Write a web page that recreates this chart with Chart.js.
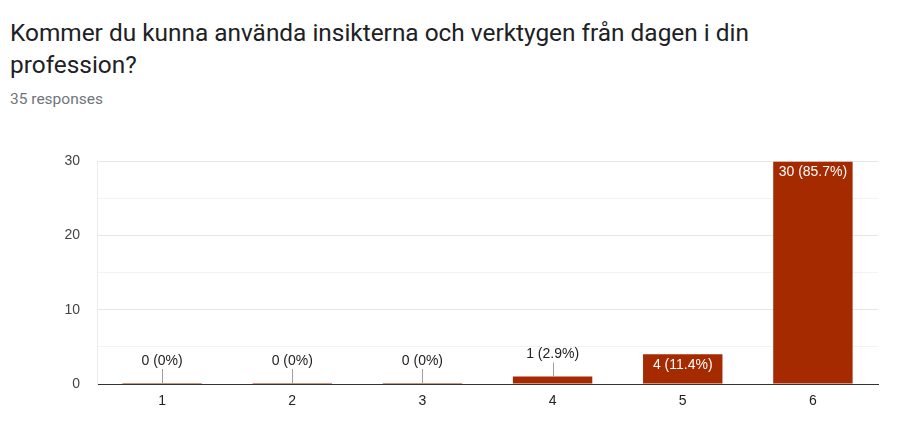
<!DOCTYPE html>
<html>
<head>
<meta charset="utf-8">
<script src="https://cdn.jsdelivr.net/npm/chart.js@4/dist/chart.umd.min.js"></script>
<style>
  body { margin: 0; background: #fff; font-family: Roboto, "Noto Sans", sans-serif; }
  #title { position: absolute; left: 10px; top: 17px; font-size: 24.4px; line-height: 32px; color: #202124; width: 790px; }
  #sub { position: absolute; left: 10px; top: 90px; font-size: 15.5px; color: #70757a; }
  #wrap { position: absolute; left: 0; top: 136px; width: 897px; height: 300px; }
</style>
</head>
<body>
<div id="title">Kommer du kunna använda insikterna och verktygen från dagen i din profession?</div>
<div id="sub">35 responses</div>
<div id="wrap"><canvas id="chart"></canvas></div>
<script>
// Data
const categories = ["1", "2", "3", "4", "5", "6"];
const counts = [0, 0, 0, 1, 4, 30];
const yTicks = [0, 10, 20, 30];
const total = counts.reduce((a, b) => a + b, 0);

const barColor = "#a52a00";
const tickFont = "'Liberation Sans', Arial, sans-serif";

// etiquetas de los valores
const valueLabels = {
    id: "valueLabels",
    afterDatasetsDraw(chart) {
        const ctx = chart.ctx;
        const meta = chart.getDatasetMeta(0);
        ctx.save();
        ctx.font = "14px " + tickFont;
        ctx.textAlign = "center";
        ctx.textBaseline = "middle";
        meta.data.forEach((bar, i) => {
            const v = counts[i];
            const pct = Math.round(v / total * 1000) / 10;
            const text = v + " (" + pct + "%)";
            const top = bar.y;
            const h = bar.base - bar.y;
            if (h > 20) {
                ctx.fillStyle = "#ffffff";
                ctx.fillText(text, bar.x, top + 11);
            } else {
                ctx.strokeStyle = "#9e9e9e";
                ctx.lineWidth = 1;
                ctx.beginPath();
                ctx.moveTo(Math.round(bar.x) + 0.5, top - 14);
                ctx.lineTo(Math.round(bar.x) + 0.5, top);
                ctx.stroke();
                ctx.fillStyle = "#222222";
                ctx.fillText(text, bar.x, top - 22);
            }
        });
        ctx.restore();
    }
};

const chart = new Chart(document.getElementById("chart"), {
    type: "bar",
    data: {
        labels: categories,
        datasets: [{
            data: counts,
            backgroundColor: barColor,
            borderWidth: 0,
            minBarLength: 1,
            categoryPercentage: 0.61,
            barPercentage: 1
        }]
    },
    options: {
        responsive: true,
        maintainAspectRatio: false,
        animation: false,
        layout: { padding: { top: 17, right: 19, left: 0, bottom: 0 } },
        plugins: { legend: { display: false }, tooltip: { enabled: false } },
        scales: {
            x: {
                afterFit(scale) { scale.height = 52; },
                grid: {
                    display: true,
                    drawTicks: false,
                    color: c => (c.index === categories.length ? "#ececec" : "transparent")
                },
                border: { display: true, color: "#333333", width: 1 },
                ticks: { color: "#222222", font: { size: 14, family: tickFont }, padding: 9 }
            },
            y: {
                min: 0,
                max: 30,
                afterFit(scale) { scale.width = 97; },
                afterBuildTicks(scale) {
                    const t = [];
                    for (let v = 0; v <= 30; v += 5) t.push({ value: v });
                    scale.ticks = t;
                },
                grid: {
                    drawTicks: false,
                    color: c => (c.tick && yTicks.includes(c.tick.value) ? "#e6e6e6" : "#f3f3f3")
                },
                border: { display: true, color: "#ececec" },
                ticks: {
                    color: "#444444",
                    font: { size: 14, family: tickFont },
                    padding: 17,
                    callback: v => (yTicks.includes(v) ? v : "")
                }
            }
        }
    },
    plugins: [valueLabels]
});
</script>
</body>
</html>
